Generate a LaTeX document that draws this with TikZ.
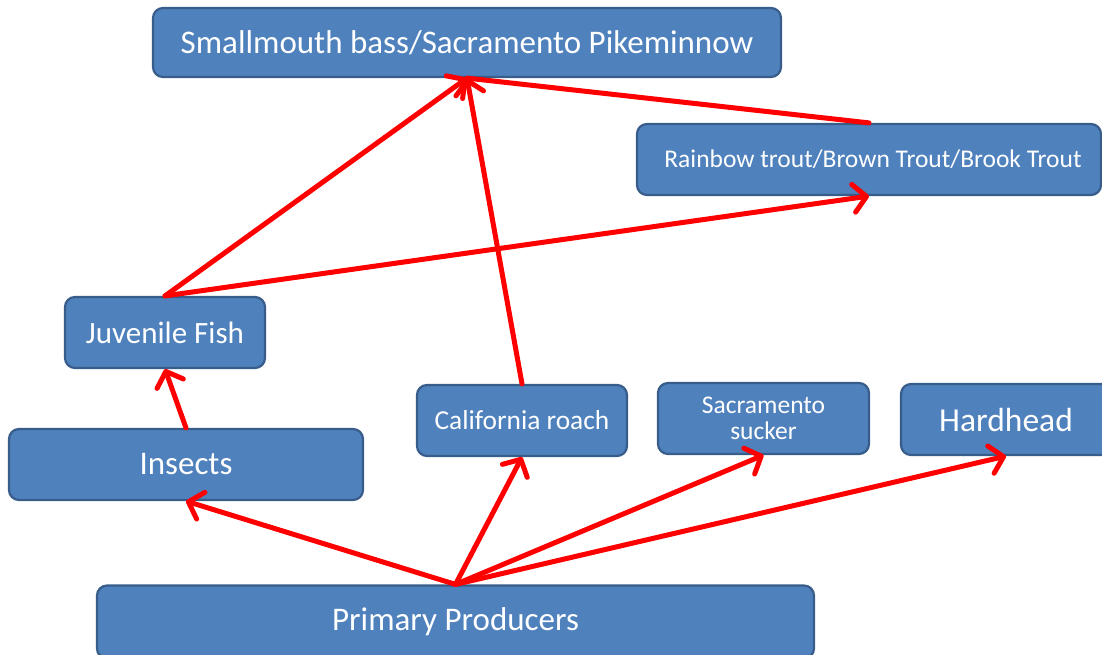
\documentclass[tikz,border=0pt]{standalone}
\usepackage{fontspec}
\setmainfont{Carlito}
\usetikzlibrary{arrows.meta}
\definecolor{boxfill}{HTML}{4F81BD}
\definecolor{boxline}{HTML}{385D8A}
\tikzset{
  species/.style={draw=boxline, line width=2.2pt, fill=boxfill, rounded corners=10pt,
    text=white, inner sep=0pt, align=center},
  feeds/.style={draw=red, line width=5pt, line cap=round, line join=round,
    -{Straight Barb[length=13pt,width=28pt,line cap=round,line join=round]}},
  link/.style={draw=red, line width=5pt, line cap=round}
}
\begin{document}
\begin{tikzpicture}[x=1pt,y=-1pt]
  \useasboundingbox (0,0) rectangle (1102,655);
  % food web members
  \node[species, minimum width=628pt, minimum height=69pt, font=\fontsize{33}{36}\selectfont]
    (bass) at (467,42.5) {Smallmouth bass/Sacramento Pikeminnow};
  \node[species, minimum width=464pt, minimum height=71pt, font=\fontsize{25.5}{28}\selectfont]
    (trout) at (869,159.5) {\hspace*{8pt}Rainbow trout/Brown Trout/Brook Trout};
  \node[species, minimum width=200pt, minimum height=71pt, font=\fontsize{31}{34}\selectfont]
    (juv) at (165,332.5) {Juvenile Fish};
  \node[species, minimum width=354pt, minimum height=71pt, font=\fontsize{33}{36}\selectfont]
    (ins) at (186,464.5) {Insects};
  \node[species, minimum width=210pt, minimum height=71pt, font=\fontsize{27.4}{30}\selectfont]
    (roach) at (522,420.5) {California roach};
  \node[species, minimum width=211pt, minimum height=71pt, font=\fontsize{25.5}{26}\selectfont]
    (sucker) at (763.5,418.5) {Sacramento\\sucker};
  \node[species, minimum width=210pt, minimum height=71pt, font=\fontsize{33.5}{36}\selectfont]
    (hard) at (1006,419.5) {Hardhead};
  \node[species, minimum width=717pt, minimum height=73pt, font=\fontsize{33}{36}\selectfont]
    (prim) at (455.5,622) {Primary Producers};
  % feeding links
  \draw[feeds] (prim.north) -- (ins.south);
  \draw[feeds] (prim.north) -- (roach.south);
  \draw[feeds] (prim.north) -- (sucker.south);
  \draw[feeds] (prim.north) -- (hard.south);
  \draw[feeds] (ins.north) -- (juv.south);
  \draw[feeds] (juv.north) -- (bass.south);
  \draw[feeds] (roach.north) -- (bass.south);
  \draw[feeds] (juv.north) -- (trout.south);
  \draw[link] (trout.north) -- (bass.south);
\end{tikzpicture}
\end{document}
